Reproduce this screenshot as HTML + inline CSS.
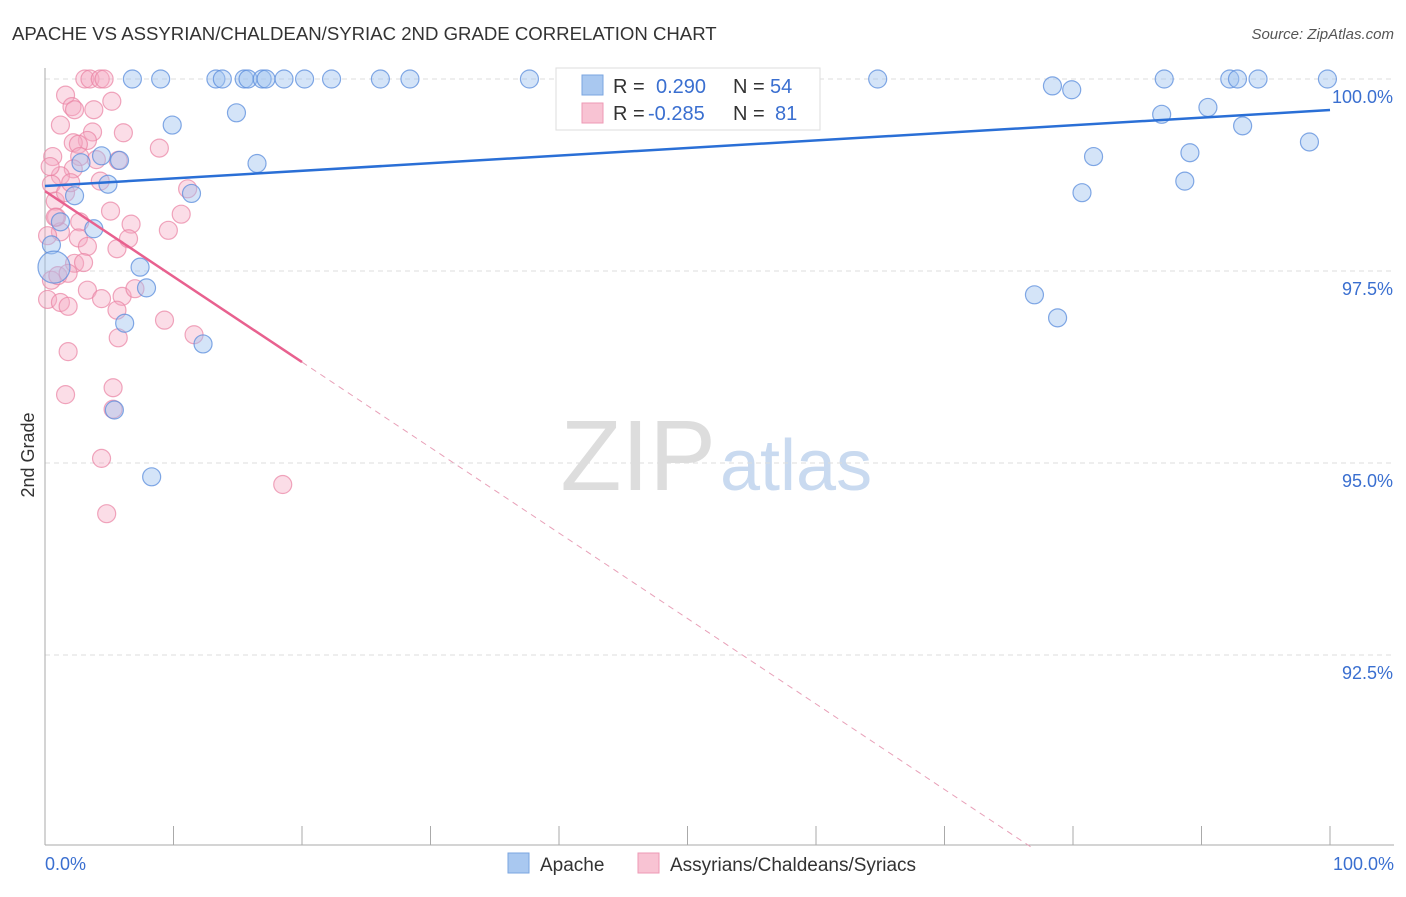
<!DOCTYPE html>
<html><head><meta charset="utf-8"><style>
body{margin:0;background:#fff;font-family:"Liberation Sans",sans-serif;}
svg text{font-family:"Liberation Sans",sans-serif;}
</style></head><body>
<svg id="chart" width="1406" height="892" viewBox="0 0 1406 892">
<text x="12" y="40" font-size="18.6" fill="#333">APACHE VS ASSYRIAN/CHALDEAN/SYRIAC 2ND GRADE CORRELATION CHART</text>
<text x="1394" y="39" font-size="15" fill="#555" font-style="italic" text-anchor="end">Source: ZipAtlas.com</text>
<text x="716" y="490" font-size="100" fill="#ddd" text-anchor="end" font-family="Liberation Serif, serif">ZIP</text>
<text x="720" y="490" font-size="72" fill="#c9daf0">atlas</text>
<text x="34" y="455" font-size="18" fill="#333" transform="rotate(-90 34 455)" text-anchor="middle">2nd Grade</text>
<g id="grid"></g><g id="marks"></g><g id="lines"></g>
<g>
<rect x="556" y="68" width="264" height="62" fill="#fff" stroke="#ddd"/>
<rect x="582" y="75" width="21" height="20" fill="#a9c8f0" stroke="#7aa6e0"/>
<rect x="582" y="103" width="21" height="20" fill="#f8c3d3" stroke="#ee9ab5"/>
<text x="613" y="93" font-size="20" fill="#333">R = </text><text x="656" y="93" font-size="20" fill="#3a6fd0">0.290</text>
<text x="733" y="93" font-size="20" fill="#333">N = </text><text x="770" y="93" font-size="20" fill="#3a6fd0">54</text>
<text x="613" y="120" font-size="20" fill="#333">R = </text><text x="648" y="120" font-size="20" fill="#3a6fd0">-0.285</text>
<text x="733" y="120" font-size="20" fill="#333">N = </text><text x="775" y="120" font-size="20" fill="#3a6fd0">81</text>
</g>
<g>
<rect x="508" y="853" width="21" height="20" fill="#a9c8f0" stroke="#7aa6e0"/>
<text x="540" y="871" font-size="19" fill="#333">Apache</text>
<rect x="638" y="853" width="21" height="20" fill="#f8c3d3" stroke="#ee9ab5"/>
<text x="670" y="871" font-size="19" fill="#333">Assyrians/Chaldeans/Syriacs</text>
</g>
<text x="45" y="870" font-size="18" fill="#3a6fd0">0.0%</text>
<text x="1394" y="870" font-size="18" fill="#3a6fd0" text-anchor="end">100.0%</text>
</svg>
<script>
const yTicks=[100,97.5,95,92.5];
const yTickLabels=["100.0%","97.5%","95.0%","92.5%"];
const apacheX=[6.8,9,13.3,13.8,15.5,15.8,16.9,17.2,18.6,20.2,22.3,26.1,28.4,37.7,42.7,64.8,78.4,79.9,87.1,92.2,92.8,94.4,99.8,9.9,14.9,86.9,90.5,93.2,98.4,4.4,16.5,5.8,2.8,81.6,89.1,4.9,2.3,11.4,80.7,88.7,1.2,3.8,0.5,7.4,7.9,77.0,78.8,6.2,12.3,5.4,8.3,0.7];
const apacheY=[100,100,100,100,100,100,100,100,100,100,100,100,100,100,99.96,100,99.91,99.86,100,100,100,100,100,99.4,99.56,99.54,99.63,99.39,99.18,99.0,98.9,98.94,98.91,98.99,99.04,98.63,98.48,98.51,98.52,98.67,98.14,98.05,97.84,97.55,97.28,97.19,96.89,96.82,96.55,95.69,94.82,97.55];
const assyX=[3.1,3.5,4.3,4.6,1.6,2.1,2.3,3.8,5.2,1.2,6.1,3.7,3.3,2.2,2.6,8.9,0.6,2.7,4.0,5.7,2.2,1.2,4.3,11.1,0.5,0.8,1.6,2.0,5.1,10.6,0.9,2.7,6.7,9.6,1.2,0.2,2.6,3.3,5.6,6.5,2.3,3.0,0.5,1.0,1.8,3.3,6.0,4.4,7.0,0.2,1.2,1.8,5.6,9.3,11.6,5.7,1.8,5.3,1.6,5.3,4.4,18.5,4.8,0.8,0.4];
const assyY=[100,100,100,100,99.79,99.64,99.6,99.6,99.71,99.4,99.3,99.31,99.2,99.17,99.15,99.1,98.99,98.99,98.95,98.94,98.83,98.74,98.67,98.57,98.63,98.41,98.52,98.65,98.28,98.24,98.2,98.14,98.11,98.03,98.01,97.96,97.93,97.82,97.79,97.92,97.6,97.61,97.38,97.44,97.47,97.25,97.17,97.14,97.27,97.13,97.09,97.04,96.99,96.86,96.67,96.63,96.45,95.98,95.89,95.7,95.06,94.72,94.34,98.2,98.86];
const apacheLine=[98.607,99.596];
const assyLine=[98.54,-0.1113];
const X=v=>45+v*12.85, Y=v=>79+(100-v)*76.8;
const NS="http://www.w3.org/2000/svg";
const grid=document.getElementById('grid'),marks=document.getElementById('marks'),lines=document.getElementById('lines');
function mk(tag,at,parent){const e=document.createElementNS(NS,tag);for(const k in at)e.setAttribute(k,at[k]);parent.appendChild(e);return e;}
yTicks.forEach((t,i)=>{
 const g=mk('line',{x1:45,x2:1394,y1:Y(t),y2:Y(t),stroke:'#ddd','stroke-dasharray':'5,4'},grid);
 
 
 const tx=mk('text',{x:1393,y:Y(t)+24,'font-size':18,fill:'#3a6fd0','text-anchor':'end'},grid);
 tx.textContent=yTickLabels[i];
 
 
});
const ya=mk('line',{x1:45,x2:45,y1:68,y2:845,stroke:'#aaa'},grid);


const xa=mk('line',{x1:45,x2:1394,y1:845,y2:845,stroke:'#aaa'},grid);


for(let i=0;i<=10;i++){
 const t=mk('line',{x1:X(i*10),x2:X(i*10),y1:826,y2:845,stroke:'#aaa'},grid);
 
 
}
assyX.forEach((x,i)=>{
 const c=mk('circle',{cx:X(x),cy:Y(assyY[i]),r:9,fill:'rgba(246,170,195,0.4)',stroke:'rgba(234,130,162,0.7)','stroke-width':1.2},marks);
 
 
});
apacheX.forEach((x,i)=>{
 const c=mk('circle',{cx:X(x),cy:Y(apacheY[i]),r:(i===apacheX.length-1?16:9),fill:'rgba(160,195,240,0.45)',stroke:'rgba(90,140,220,0.75)','stroke-width':1.2},marks);
 
 
});
const bl=mk('line',{x1:X(0),y1:Y(apacheLine[0]),x2:X(100),y2:Y(apacheLine[1]),stroke:'#2a6fd6','stroke-width':2.5},lines);


const p=v=>assyLine[0]+assyLine[1]*v;
const pl=mk('line',{x1:X(0),y1:Y(p(0)),x2:X(20),y2:Y(p(20)),stroke:'#e8618f','stroke-width':2.5},lines);


const xEnd=(assyLine[0]-90)/-assyLine[1];
const pd=mk('line',{x1:X(20),y1:Y(p(20)),x2:X(xEnd),y2:Y(p(xEnd)),stroke:'#e8a0b8','stroke-width':1,'stroke-dasharray':'6,5'},lines);


</script>
</body></html>
